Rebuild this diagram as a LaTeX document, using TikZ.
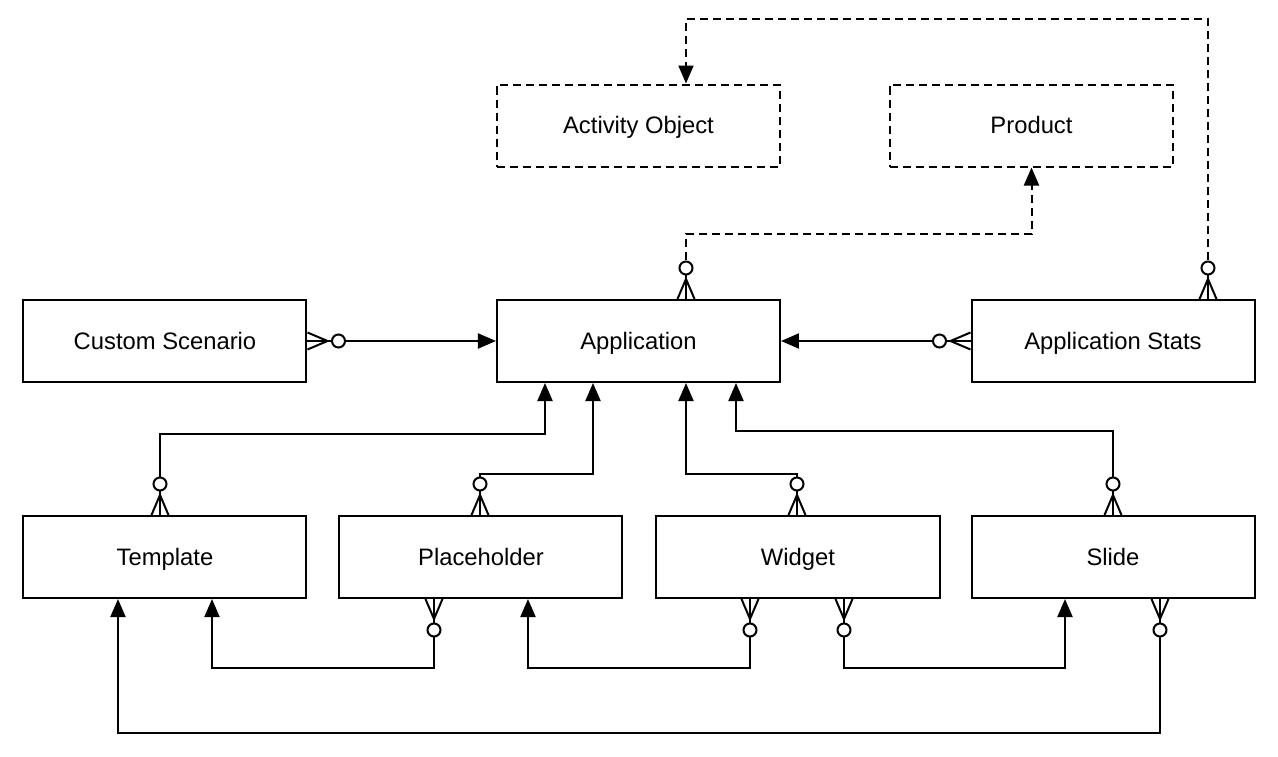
\documentclass[tikz,border=0pt]{standalone}
\usepackage{fontspec}
\setmainfont{Liberation Sans}
\usetikzlibrary{arrows.meta}

\begin{document}
\begin{tikzpicture}[node distance={216pt}, line width=2pt,
	entity/.style = {draw, minimum width=283pt, minimum height=82pt, inner sep=0pt, text height=17pt, text depth=1pt, font=\fontsize{23.8}{28}\selectfont},
	weak/.style = {dash pattern=on 8pt off 5pt},
	tip/.style = {-{Triangle[length=18pt,width=15pt]}},
	crowfoot/.pic = {
		\draw (0pt,8.5pt) -- (20pt,0pt) -- (0pt,-8.5pt);
		\draw (0pt,0pt) -- (25pt,0pt);
		\draw[fill=white] (31pt,0pt) circle (6.5pt);
	}]
		\useasboundingbox (-638.5pt,-415pt) rectangle (639.5pt,341pt);
		\node[entity] (app) {Application};
		\node[entity] (cs) [node distance=473.5pt, left of=app] {Custom Scenario};
		\node[entity] (stats) [node distance=474.5pt, right of=app] {Application Stats};
		\node[entity, weak] (ao) [node distance=215.5pt, above of=app] {Activity Object};
		\node[entity, weak] (prod) [node distance=393pt, right of=ao] {Product};
		\node[entity] (tpl) [below of=cs] {Template};
		\node[entity] (ph) [node distance=316pt, right of=tpl] {Placeholder};
		\node[entity] (wdg) [node distance=317pt, right of=ph] {Widget};
		\node[entity] (slide) [below of=stats] {Slide};
		\draw[tip] (cs) -- (app);
		\draw[tip] (stats) -- (app);
		\draw[tip, weak] ([xshift=47.5pt]app.north) -- ++(0,65pt) -| (prod.south);
		\draw[tip, weak] ([xshift=95pt]stats.north) -- ++(0,280pt) -| ([xshift=47.5pt]ao.north);
		\draw[tip] ([xshift=-5pt]tpl.north) -- ++(0,81pt) -| ([xshift=-93.5pt]app.south);
		\draw[tip] ([xshift=-1pt]ph.north) -- ++(0,41pt) -| ([xshift=-45.5pt]app.south);
		\draw[tip] ([xshift=-1pt]wdg.north) -- ++(0,41pt) -| ([xshift=47.5pt]app.south);
		\draw[tip] (slide.north) -- ++(0,84pt) -| ([xshift=97.5pt]app.south);
		\draw[tip] ([xshift=-47pt]ph.south) -- ++(0,-69pt) -| ([xshift=47pt]tpl.south);
		\draw[tip] ([xshift=-48pt]wdg.south) -- ++(0,-69pt) -| ([xshift=47pt]ph.south);
		\draw[tip] ([xshift=46pt]wdg.south) -- ++(0,-69pt) -| ([xshift=-48pt]slide.south);
		\draw[tip] ([xshift=47pt]slide.south) -- ++(0,-134pt) -| ([xshift=-47pt]tpl.south);
		\pic at (cs.east) {crowfoot};
		\pic[rotate=180] at (stats.west) {crowfoot};
		\pic[rotate=90] at ([xshift=47.5pt]app.north) {crowfoot};
		\pic[rotate=90] at ([xshift=95pt]stats.north) {crowfoot};
		\pic[rotate=90] at ([xshift=-5pt]tpl.north) {crowfoot};
		\pic[rotate=90] at ([xshift=-1pt]ph.north) {crowfoot};
		\pic[rotate=90] at ([xshift=-1pt]wdg.north) {crowfoot};
		\pic[rotate=90] at (slide.north) {crowfoot};
		\pic[rotate=-90] at ([xshift=-47pt]ph.south) {crowfoot};
		\pic[rotate=-90] at ([xshift=-48pt]wdg.south) {crowfoot};
		\pic[rotate=-90] at ([xshift=46pt]wdg.south) {crowfoot};
		\pic[rotate=-90] at ([xshift=47pt]slide.south) {crowfoot};

	\end{tikzpicture}
\end{document}
